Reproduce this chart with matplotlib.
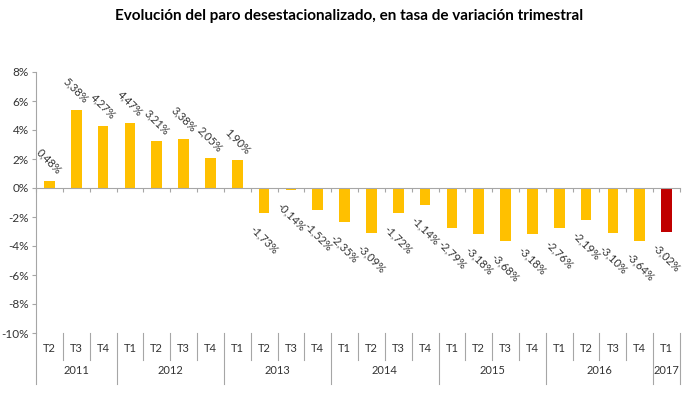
import numpy as np
import matplotlib
matplotlib.use("Agg")
import matplotlib.pyplot as plt
from matplotlib.transforms import blended_transform_factory

TITLE = "Evolución del paro desestacionalizado, en tasa de variación trimestral"
YEARS = ["2011", "2012", "2013", "2014", "2015", "2016", "2017"]
QUARTERS = [
    ["T2", "T3", "T4"],
    ["T1", "T2", "T3", "T4"],
    ["T1", "T2", "T3", "T4"],
    ["T1", "T2", "T3", "T4"],
    ["T1", "T2", "T3", "T4"],
    ["T1", "T2", "T3", "T4"],
    ["T1"],
]
VALUES = [0.48, 5.38, 4.27,
          4.47, 3.21, 3.38, 2.05,
          1.90, -1.73, -0.14, -1.52,
          -2.35, -3.09, -1.72, -1.14,
          -2.79, -3.18, -3.68, -3.18,
          -2.76, -2.19, -3.10, -3.64,
          -3.02]
Y_TICKS = [-10, -8, -6, -4, -2, 0, 2, 4, 6, 8]

YELLOW = "#FFC000"
RED = "#C00000"
AXIS_GREY = "#A6A6A6"
TEXT = "#333333"

plt.rcParams["font.family"] = ["Lato", "DejaVu Sans"]

fig = plt.figure(figsize=(6.98, 3.99), dpi=100)
ax = fig.add_axes([36 / 698, 1 - 333 / 399, (680 - 36) / 698, (333 - 72) / 399])

n = len(VALUES)
x = np.arange(n)
colors = [YELLOW] * (n - 1) + [RED]
ax.bar(x, VALUES, width=0.4, color=colors, zorder=2)

# rotated data labels
for xi, v in zip(x, VALUES):
    lab = f"{v:.2f}".replace(".", ",") + "%"
    off = 14 if v >= 0 else -19
    ax.annotate(lab, (xi, v), xytext=(0, off), textcoords="offset points",
                rotation=-45, ha="center", va="center", fontsize=8,
                color=TEXT, rotation_mode="anchor")

ax.set_xlim(-0.5, n - 0.5)
ax.set_ylim(-10, 8)
ax.set_yticks(Y_TICKS)
ax.set_yticklabels([f"{t}%" for t in Y_TICKS], fontsize=8.5, color=TEXT)
ax.tick_params(axis="y", length=3, color=AXIS_GREY, pad=2)

# category axis sits on the zero line, with ticks at category boundaries
ax.spines["bottom"].set_position(("data", 0))
ax.spines["bottom"].set_color(AXIS_GREY)
ax.spines["left"].set_color(AXIS_GREY)
ax.spines["top"].set_visible(False)
ax.spines["right"].set_visible(False)
ax.set_xticks(np.arange(n + 1) - 0.5)
ax.set_xticklabels([])
ax.tick_params(axis="x", length=3, direction="out", color=AXIS_GREY)

# multi-level category labels below the plot area
trans = blended_transform_factory(ax.transData, fig.transFigure)
y_top = 1 - 333 / 399
y_q = 1 - 348 / 399
y_mid = 1 - 360 / 399
y_year = 1 - 371 / 399
y_bot = 1 - 384 / 399

pos = 0
for year, qs in zip(YEARS, QUARTERS):
    start = pos
    for q in qs:
        fig.text(pos, y_q, q, transform=trans, ha="center", va="center",
                 fontsize=8, color=TEXT)
        pos += 1
    fig.text((start + pos - 1) / 2, y_year, year, transform=trans,
             ha="center", va="center", fontsize=8, color=TEXT)

boundaries = [0]
for qs in QUARTERS:
    boundaries.append(boundaries[-1] + len(qs))
for b in range(n + 1):
    yb = y_bot if b in boundaries else y_mid
    fig.add_artist(plt.Line2D([b - 0.5, b - 0.5], [y_top, yb], transform=trans,
                              color=AXIS_GREY, linewidth=0.8))

fig.text(0.5, 1 - 16 / 399, TITLE, ha="center", va="center",
         fontsize=11, fontweight="bold", color="black")

fig.savefig("out.png", dpi=100)
